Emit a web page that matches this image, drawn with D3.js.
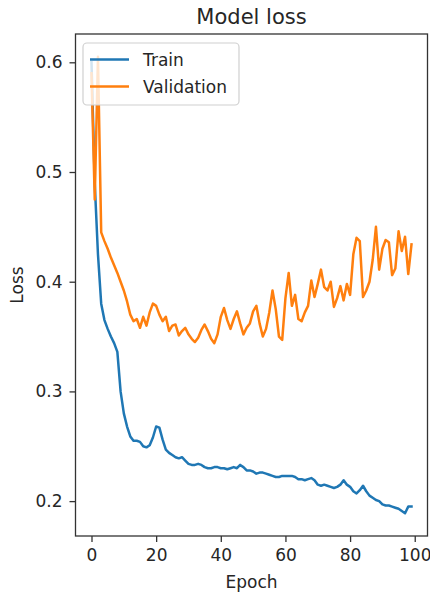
<!DOCTYPE html>
<html>
<head>
<meta charset="utf-8">
<script src="https://cdn.jsdelivr.net/npm/d3@7"></script>
<style>
  body { margin: 0; background: #fff; }
  svg { display: block; font-family: "DejaVu Sans", sans-serif; }
</style>
</head>
<body>
<div id="chart"></div>
<script>
// loss per epoch
const trainLoss = [
  0.600, 0.490, 0.425, 0.380, 0.365, 0.357, 0.350, 0.344, 0.336, 0.300,
  0.280, 0.268, 0.259, 0.255, 0.255, 0.254, 0.250, 0.249, 0.251, 0.258,
  0.268, 0.267, 0.256, 0.247, 0.244, 0.242, 0.240, 0.239, 0.240, 0.237,
  0.234, 0.233, 0.233, 0.234, 0.233, 0.231, 0.230, 0.230, 0.231, 0.231,
  0.230, 0.230, 0.229, 0.230, 0.231, 0.230, 0.233, 0.231, 0.228, 0.228,
  0.227, 0.225, 0.226, 0.226, 0.225, 0.224, 0.223, 0.222, 0.222, 0.223,
  0.223, 0.223, 0.223, 0.222, 0.220, 0.220, 0.219, 0.220, 0.221, 0.219,
  0.215, 0.214, 0.215, 0.214, 0.213, 0.212, 0.213, 0.215, 0.219, 0.215,
  0.213, 0.209, 0.207, 0.210, 0.214, 0.209, 0.205, 0.203, 0.201, 0.200,
  0.197, 0.196, 0.196, 0.195, 0.194, 0.193, 0.191, 0.189, 0.195, 0.195
];
const valLoss = [
  0.590, 0.475, 0.605, 0.445, 0.437, 0.430, 0.422, 0.415, 0.408, 0.400,
  0.392, 0.382, 0.370, 0.364, 0.366, 0.358, 0.368, 0.360, 0.372, 0.380,
  0.378, 0.370, 0.364, 0.368, 0.355, 0.360, 0.361, 0.351, 0.355, 0.358,
  0.352, 0.348, 0.345, 0.349, 0.356, 0.361, 0.355, 0.348, 0.344, 0.352,
  0.368, 0.376, 0.365, 0.357, 0.366, 0.373, 0.362, 0.352, 0.358, 0.362,
  0.373, 0.378, 0.362, 0.350, 0.357, 0.372, 0.392, 0.375, 0.350, 0.347,
  0.385, 0.408, 0.378, 0.388, 0.366, 0.364, 0.372, 0.378, 0.401, 0.386,
  0.398, 0.411, 0.395, 0.392, 0.400, 0.377, 0.385, 0.396, 0.383, 0.398,
  0.388, 0.425, 0.440, 0.437, 0.386, 0.392, 0.400, 0.420, 0.450, 0.411,
  0.430, 0.438, 0.436, 0.406, 0.412, 0.446, 0.428, 0.441, 0.407, 0.434
];
const seriesNames = ["Train", "Validation"];
const xTicks = [0, 20, 40, 60, 80, 100];
const yTicks = [0.2, 0.3, 0.4, 0.5, 0.6];

const w = 430, h = 594;
const plotLeft = 75.5, plotRight = 427.5, plotTop = 34, plotBottom = 536;
const colors = ["#1f77b4", "#ff7f0e"];
const axisColor = "#333";
const textColor = "#262626";

const svg = d3.select("#chart").append("svg")
  .attr("width", w)
  .attr("height", h);

// matplotlib style 5% margins
const n = trainLoss.length;
const xPad = (n - 1) * 0.05;
const xScale = d3.scaleLinear()
  .domain([-xPad, n - 1 + xPad])
  .range([plotLeft, plotRight]);

const ext = d3.extent(trainLoss.concat(valLoss));
const yPad = (ext[1] - ext[0]) * 0.05;
const yScale = d3.scaleLinear()
  .domain([ext[0] - yPad, ext[1] + yPad])
  .range([plotBottom, plotTop]);

// lines
const line = d3.line()
  .x((d, i) => xScale(i))
  .y(d => yScale(d));

const plot = svg.append("g");
[trainLoss, valLoss].forEach((s, k) => {
  plot.append("path")
    .datum(s)
    .attr("d", line)
    .attr("fill", "none")
    .attr("stroke", colors[k])
    .attr("stroke-width", 2.5)
    .attr("stroke-linejoin", "round")
    .attr("stroke-linecap", "square");
});

// axes
const xAxis = d3.axisBottom(xScale)
  .tickValues(xTicks)
  .tickSizeInner(6)
  .tickSizeOuter(0)
  .tickPadding(7);

const yAxis = d3.axisLeft(yScale)
  .tickValues(yTicks)
  .tickFormat(d3.format(".1f"))
  .tickSizeInner(6)
  .tickSizeOuter(0)
  .tickPadding(7);

const gx = svg.append("g")
  .attr("transform", `translate(0, ${plotBottom})`)
  .call(xAxis);
const gy = svg.append("g")
  .attr("transform", `translate(${plotLeft}, 0)`)
  .call(yAxis);

[gx, gy].forEach(g => {
  g.select(".domain").remove();
  g.selectAll(".tick line").attr("stroke", axisColor).attr("stroke-width", 1.3);
  g.selectAll(".tick text")
    .attr("fill", textColor)
    .style("font-size", "17px")
    .style("font-family", "DejaVu Sans, sans-serif");
});

// frame
svg.append("rect")
  .attr("x", plotLeft)
  .attr("y", plotTop)
  .attr("width", plotRight - plotLeft)
  .attr("height", plotBottom - plotTop)
  .attr("fill", "none")
  .attr("stroke", axisColor)
  .attr("stroke-width", 1.3);

// title + axis labels
svg.append("text")
  .attr("x", (plotLeft + plotRight) / 2)
  .attr("y", 24)
  .attr("text-anchor", "middle")
  .attr("fill", textColor)
  .style("font-size", "21px")
  .text("Model loss");

svg.append("text")
  .attr("x", (plotLeft + plotRight) / 2)
  .attr("y", 588)
  .attr("text-anchor", "middle")
  .attr("fill", textColor)
  .style("font-size", "17px")
  .text("Epoch");

svg.append("text")
  .attr("transform", `translate(23, ${(plotTop + plotBottom) / 2}) rotate(-90)`)
  .attr("text-anchor", "middle")
  .attr("fill", textColor)
  .style("font-size", "17px")
  .text("Loss");

// legend
const legend = svg.append("g");
legend.append("rect")
  .attr("x", 83)
  .attr("y", 43)
  .attr("width", 156)
  .attr("height", 62)
  .attr("rx", 4)
  .attr("fill", "#fff")
  .attr("fill-opacity", 0.8)
  .attr("stroke", "#d0d0d0")
  .attr("stroke-width", 1.2);

const items = legend.selectAll(".item")
  .data(seriesNames)
  .enter()
  .append("g")
  .attr("transform", (d, i) => `translate(0, ${59.5 + i * 27})`);

items.append("line")
  .attr("x1", 90)
  .attr("x2", 129)
  .attr("stroke", (d, i) => colors[i])
  .attr("stroke-width", 2.5);

items.append("text")
  .attr("x", 143)
  .attr("dy", "0.36em")
  .attr("fill", textColor)
  .style("font-size", "17px")
  .text(d => d);
</script>
</body>
</html>
